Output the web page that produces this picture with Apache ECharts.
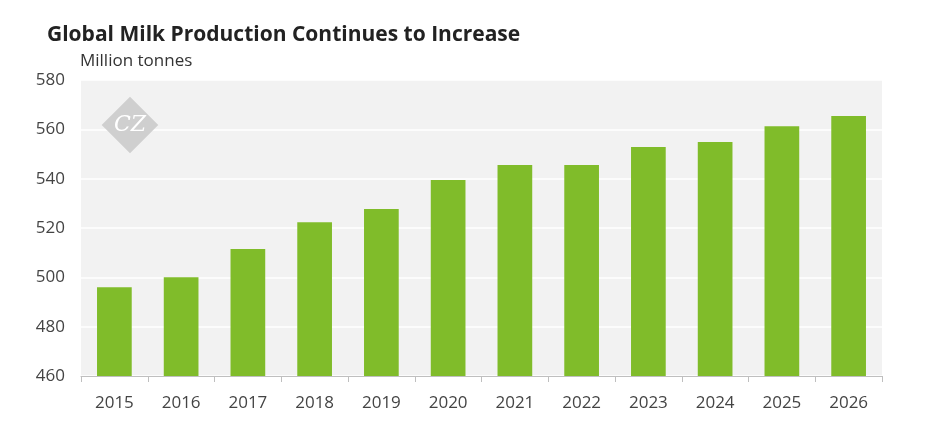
<!DOCTYPE html>
<html><head><meta charset="utf-8">
<script src="https://cdn.jsdelivr.net/npm/echarts@6/dist/echarts.min.js"></script>
<style>html,body{margin:0;padding:0;background:#fff}#c{width:945px;height:443px}</style>
</head><body><div id="c"></div>
<script>
const categories = ['2015','2016','2017','2018','2019','2020','2021','2022','2023','2024','2025','2026'];
const production = [496, 500, 511.5, 522.3, 527.7, 539.5, 545.5, 545.5, 552.8, 554.9, 561.3, 565.4];
const chart = echarts.init(document.getElementById('c'));
chart.setOption({
  animation:false,
  title:{text:'Global Milk Production Continues to Increase',left:42,top:20,textStyle:{fontFamily:'Open Sans',fontSize:21,fontWeight:'bold',color:'#222'}},
  graphic:[
    {type:'text',left:80,top:53,style:{text:'Million tonnes',font:'17px "Open Sans"',fill:'#333'}},
    {type:'rect',shape:{x:-20,y:-20,width:40,height:40},x:130,y:125,rotation:Math.PI/4,style:{fill:'#cfcfcf'},z:10},
    {type:'text',x:130,y:125,style:{text:'CZ',font:'italic 22px "DejaVu Serif"',fill:'#fff',align:'center',verticalAlign:'middle'},z:11}
  ],
  grid:{left:81,right:63,top:80,bottom:67,show:true,backgroundColor:'#f2f2f2',borderWidth:0},
  xAxis:{type:'category',data:categories,
    axisLine:{lineStyle:{color:'#bfbfbf'}},axisTick:{show:true,length:6,lineStyle:{color:'#bfbfbf'}},
    axisLabel:{fontFamily:'Open Sans',fontSize:17,color:'#444',margin:19}},
  yAxis:{type:'value',min:460,max:580,interval:20,
    axisLine:{show:false},axisTick:{show:false},
    splitLine:{lineStyle:{color:'#fff',width:1.5}},
    axisLabel:{fontFamily:'Open Sans',fontSize:17,color:'#444',margin:16}},
  series:[{type:'bar',data:production,barWidth:'52%',itemStyle:{color:'#80bc2a'}}]
});
</script></body></html>
